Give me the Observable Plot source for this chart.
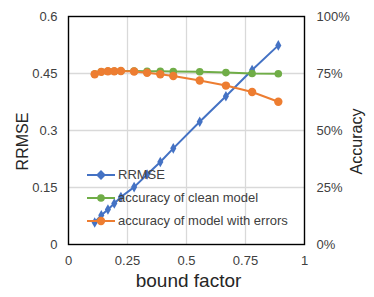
<!DOCTYPE html>
<html>
<head>
<meta charset="utf-8">
<script src="https://cdn.jsdelivr.net/npm/d3@7"></script>
<script src="https://cdn.jsdelivr.net/npm/@observablehq/plot@0.6"></script>
<style>
  html, body { margin: 0; padding: 0; background: #fff; }
  #wrap { position: relative; width: 374px; height: 297px; font-family: "Liberation Sans", Arial, sans-serif; }
  #legend { position: absolute; left: 87px; top: 163px; font-size: 13px; color: #404040; }
  #legend .row { height: 23px; display: flex; align-items: center; white-space: nowrap; }
  #legend svg { margin-right: 3px; overflow: visible; }
</style>
</head>
<body>
<div id="wrap"></div>
<script>
// ---- data ----
const boundFactor = [0.111, 0.139, 0.167, 0.194, 0.222, 0.278, 0.333, 0.389, 0.444, 0.556, 0.667, 0.778, 0.889];
const rrmse       = [0.058, 0.077, 0.092, 0.108, 0.125, 0.151, 0.184, 0.217, 0.253, 0.323, 0.390, 0.459, 0.524];
const accClean    = [74.8, 75.8, 76.0, 76.0, 76.1, 76.1, 76.0, 76.0, 75.9, 75.8, 75.4, 75.0, 74.9];   // %
const accErrors   = [74.7, 75.7, 76.0, 76.0, 76.1, 75.9, 75.3, 74.7, 73.9, 71.9, 69.7, 66.9, 62.6];   // %
const seriesNames = ["RRMSE", "accuracy of clean model", "accuracy of model with errors"];
const seriesColors = ["#4472C4", "#70AD47", "#ED7D31"];
const xTicks = [0, 0.25, 0.5, 0.75, 1];
const rrmseTicks = [0, 0.15, 0.3, 0.45, 0.6];
const accTicks = [0, 25, 50, 75, 100];
const xTitle = "bound factor", yTitle = "RRMSE", y2Title = "Accuracy";

// secondary axis (0–100%) mapped onto primary (0–0.6)
const yMax = 0.6, accMax = 100;
const toPrimary = a => a / accMax * yMax;

const blue = boundFactor.map((x, i) => ({x, y: rrmse[i]}));
const green = boundFactor.map((x, i) => ({x, y: toPrimary(accClean[i])}));
const orange = boundFactor.map((x, i) => ({x, y: toPrimary(accErrors[i])}));

const font = '"Liberation Sans", Arial, sans-serif';
const txt = "#404040";

const chart = Plot.plot({
  width: 374,
  height: 297,
  marginLeft: 68,
  marginRight: 70,
  marginTop: 16,
  marginBottom: 53,
  style: {fontFamily: font, fontSize: "13px", color: txt, background: "#fff"},
  x: {domain: [0, 1]},
  y: {domain: [0, yMax]},
  marks: [
    Plot.gridX(xTicks.slice(1, -1), {stroke: "#d9d9d9", strokeOpacity: 1, strokeWidth: 1.3}),
    Plot.gridY(rrmseTicks.slice(1, -1), {stroke: "#d9d9d9", strokeOpacity: 1, strokeWidth: 1.3}),
    Plot.axisX(xTicks, {tickSize: 0, tickPadding: 11, tickFormat: d => String(d), label: null, fontSize: 13, fill: txt}),
    Plot.axisY(rrmseTicks, {anchor: "left", tickSize: 0, tickPadding: 11, tickFormat: d => String(d), label: null, fontSize: 13, fill: txt}),
    Plot.axisY(accTicks.map(toPrimary), {anchor: "right", tickSize: 0, tickPadding: 12, tickFormat: (d, i) => accTicks[i] + "%", label: null, fontSize: 13, fill: txt}),
    Plot.text([xTitle], {frameAnchor: "bottom", textAnchor: "middle", lineAnchor: "middle", dx: 2, dy: 36, fontSize: 19, fill: "#262626"}),
    Plot.text([yTitle], {frameAnchor: "left", textAnchor: "middle", lineAnchor: "middle", dx: -46, dy: 11, rotate: -90, fontSize: 16, fill: "#262626"}),
    Plot.text([y2Title], {frameAnchor: "right", textAnchor: "middle", lineAnchor: "middle", dx: 52, dy: 11, rotate: -90, fontSize: 16, fill: "#262626"}),
    Plot.line(blue, {x: "x", y: "y", stroke: seriesColors[0], strokeWidth: 2}),
    Plot.dot(blue, {x: "x", y: "y", symbol: "diamond", r: 3.2, fill: seriesColors[0]}),
    Plot.line(green, {x: "x", y: "y", stroke: seriesColors[1], strokeWidth: 2}),
    Plot.dot(green, {x: "x", y: "y", r: 3.8, fill: seriesColors[1]}),
    Plot.line(orange, {x: "x", y: "y", stroke: seriesColors[2], strokeWidth: 2}),
    Plot.dot(orange, {x: "x", y: "y", r: 4.2, fill: seriesColors[2]}),
    Plot.frame({stroke: "#000", strokeWidth: 1.4})
  ]
});

const wrap = document.getElementById("wrap");
wrap.appendChild(chart);

// legend (inside plot area, transparent)
const legend = document.createElement("div");
legend.id = "legend";
seriesNames.forEach((name, i) => {
  const row = document.createElement("div");
  row.className = "row";
  const marker = i === 0
    ? `<rect x="10.5" y="2.5" width="7" height="7" transform="rotate(45 14 6)" fill="${seriesColors[i]}"/>`
    : `<circle cx="14" cy="6" r="${i === 1 ? 3.8 : 4.2}" fill="${seriesColors[i]}"/>`;
  row.innerHTML = `<svg width="28" height="12"><line x1="0" x2="28" y1="6" y2="6" stroke="${seriesColors[i]}" stroke-width="2"/>${marker}</svg><span>${name}</span>`;
  legend.appendChild(row);
});
wrap.appendChild(legend);
</script>
</body>
</html>
